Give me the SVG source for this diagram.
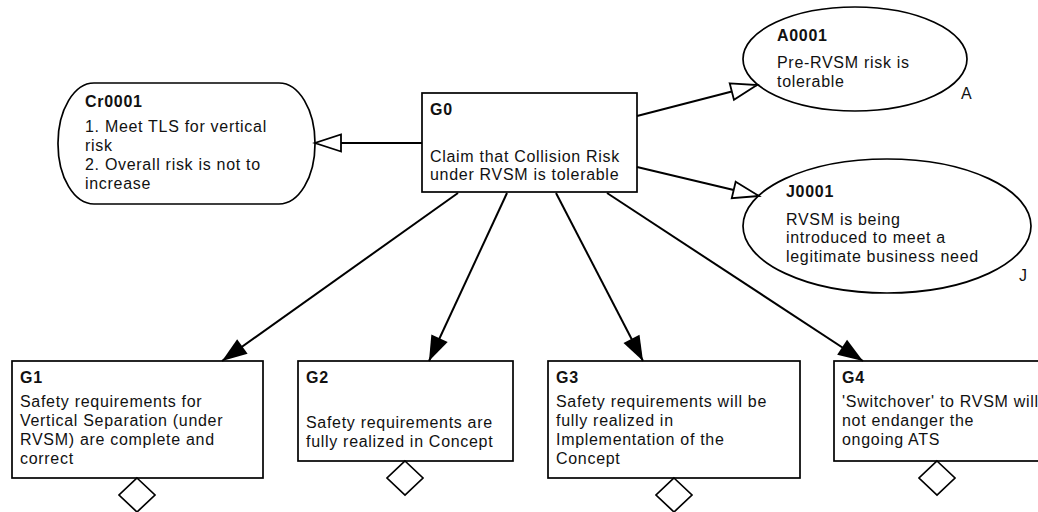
<svg xmlns="http://www.w3.org/2000/svg" width="1038" height="512" viewBox="0 0 1038 512">
<style>
.n{fill:#fff;stroke:#000;stroke-width:1.7}
.t{font-family:"Liberation Sans",Arial,sans-serif;font-size:16px;letter-spacing:0.7px;fill:#111}
.b{font-weight:bold}
.c{stroke:#000;stroke-width:2;fill:none}
.h{marker-end:url(#hollow)}
.f{marker-end:url(#filled)}
</style>
<defs>
<marker id="hollow" markerUnits="userSpaceOnUse" markerWidth="32" markerHeight="22" refX="27" refY="9.5" orient="auto" overflow="visible">
<path d="M1,1 L27,9.5 L1,18 Z" fill="#fff" stroke="#000" stroke-width="1.8"/>
</marker>
<marker id="filled" markerUnits="userSpaceOnUse" markerWidth="28" markerHeight="20" refX="25" refY="9" orient="auto" overflow="visible">
<path d="M0,0 L25,9 L0,18 Z" fill="#000"/>
</marker>
</defs>
<rect width="1038" height="512" fill="#fff"/>
<g id="G0">
<rect class="n" x="422" y="93" width="215" height="99"/>
<text class="t b" x="430" y="115">G0</text>
<text class="t" x="430" y="162">Claim that Collision Risk</text>
<text class="t" x="430" y="180">under RVSM is tolerable</text>
</g>
<g id="Cr0001">
<rect class="n" x="58" y="83" width="257" height="121" rx="36" ry="60"/>
<text class="t b" x="85" y="107">Cr0001</text>
<text class="t" x="85" y="132">1. Meet TLS for vertical</text>
<text class="t" x="85" y="151">risk</text>
<text class="t" x="85" y="170">2. Overall risk is not to</text>
<text class="t" x="85" y="189">increase</text>
</g>
<g id="A0001">
<ellipse class="n" cx="855" cy="59" rx="112" ry="52"/>
<text class="t b" x="777" y="41">A0001</text>
<text class="t" x="777" y="68">Pre-RVSM risk is</text>
<text class="t" x="777" y="87">tolerable</text>
<text class="t" x="961" y="99">A</text>
</g>
<g id="J0001">
<ellipse class="n" cx="887" cy="226" rx="144" ry="67"/>
<text class="t b" x="786" y="197">J0001</text>
<text class="t" x="786" y="225">RVSM is being</text>
<text class="t" x="786" y="243">introduced to meet a</text>
<text class="t" x="786" y="262">legitimate business need</text>
<text class="t" x="1019" y="281">J</text>
</g>
<g id="G1">
<rect class="n" x="12" y="361" width="251" height="117"/>
<text class="t b" x="20" y="383">G1</text>
<text class="t" x="20" y="407">Safety requirements for</text>
<text class="t" x="20" y="426">Vertical Separation (under</text>
<text class="t" x="20" y="445">RVSM) are complete and</text>
<text class="t" x="20" y="464">correct</text>
<path class="n" d="M137,478 L155,495 L137,512 L119,495 Z"/>
</g>
<g id="G2">
<rect class="n" x="298" y="361" width="215" height="100"/>
<text class="t b" x="306" y="383">G2</text>
<text class="t" x="306" y="428">Safety requirements are</text>
<text class="t" x="306" y="447">fully realized in Concept</text>
<path class="n" d="M405,461 L423,478 L405,495 L387,478 Z"/>
</g>
<g id="G3">
<rect class="n" x="548" y="361" width="252" height="117"/>
<text class="t b" x="556" y="383">G3</text>
<text class="t" x="556" y="407">Safety requirements will be</text>
<text class="t" x="556" y="426">fully realized in</text>
<text class="t" x="556" y="445">Implementation of the</text>
<text class="t" x="556" y="464">Concept</text>
<path class="n" d="M674,478 L692,495 L674,512 L656,495 Z"/>
</g>
<g id="G4">
<rect class="n" x="834" y="361" width="215" height="100"/>
<text class="t b" x="842" y="383">G4</text>
<text class="t" x="842" y="407">'Switchover' to RVSM will</text>
<text class="t" x="842" y="426">not endanger the</text>
<text class="t" x="842" y="445">ongoing ATS</text>
<path class="n" d="M937,461 L955,478 L937,495 L919,478 Z"/>
</g>
<g id="connectors">
<line class="c h" x1="422" y1="143" x2="315" y2="143"/>
<line class="c h" x1="637" y1="116" x2="757" y2="85"/>
<line class="c h" x1="637" y1="167" x2="759" y2="196"/>
<line class="c f" x1="458" y1="193" x2="222" y2="361"/>
<line class="c f" x1="507" y1="193" x2="429" y2="361"/>
<line class="c f" x1="556" y1="193" x2="643" y2="361"/>
<line class="c f" x1="607" y1="193" x2="863" y2="361"/>
</g>
</svg>
